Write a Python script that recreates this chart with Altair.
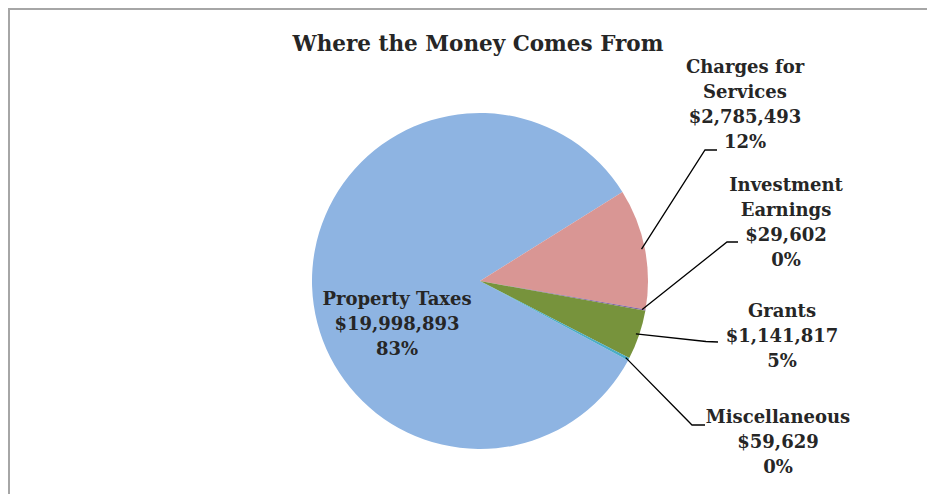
import math
import altair as alt
import pandas as pd

# ---------------- data ----------------
categories = ["Property Taxes", "Charges for Services", "Investment Earnings", "Grants", "Miscellaneous"]
label_names = ["Property Taxes", "Charges for\nServices", "Investment\nEarnings", "Grants", "Miscellaneous"]
values = [19998893, 2785493, 29602, 1141817, 59629]
colors = ["#8EB4E2", "#D99694", "#8064A2", "#77933C", "#4BACC6"]
TITLE = "Where the Money Comes From"

# ---------------- layout ----------------
W, H = 919, 486            # view size (px)
CX, CY, R = 472, 273, 168  # pie centre and radius in view px
FIRST_SLICE_DEG = 118.2    # angle of first slice (clockwise from 12 o'clock)
TEXT_COLOR = "#262626"
FONT = "DejaVu Serif"

# label first-line centres (view px)
label_pos = {
    "Property Taxes": (389, 292),
    "Charges for Services": (737, 59.5),
    "Investment Earnings": (778, 177.5),
    "Grants": (774, 304),
    "Miscellaneous": (770, 409.5),
}
# leader line elbow and end points (view px)
leader_pts = {
    "Charges for Services": [(697, 142), (709, 142)],
    "Investment Earnings": [(719, 234), (730, 234)],
    "Grants": [(698, 333.5), (710, 334)],
    "Miscellaneous": [(684, 417), (697, 417)],
}
title_pos = (470, 37)


def to_unit(p):
    return ((p[0] - CX) / R, (CY - p[1]) / R)


total = sum(values)
S = math.radians(FIRST_SLICE_DEG)

# slices
cum = 0
rows = []
for c, v in zip(categories, values):
    rows.append({"category": c, "t0": cum, "t1": cum + v, "value": v})
    cum += v
df_pie = pd.DataFrame(rows)

# labels
lab_rows = []
for c, n, v in zip(categories, label_names, values):
    pct = round(100 * v / total)
    text = f"{n}\n${v:,}\n{pct}%"
    ux, uy = to_unit(label_pos[c])
    lab_rows.append({"category": c, "label": text, "ux": ux, "uy": uy})
df_lab = pd.DataFrame(lab_rows)

# leader lines: start at the slice's mid angle on the edge
lead_rows = []
cum = 0
for c, v in zip(categories, values):
    mid = S + 2 * math.pi * (cum + v / 2) / total
    cum += v
    if c not in leader_pts:
        continue
    pts = [(0.98 * math.sin(mid), 0.98 * math.cos(mid))] + [to_unit(p) for p in leader_pts[c]]
    for i, (ux, uy) in enumerate(pts):
        lead_rows.append({"category": c, "order": i, "ux": ux, "uy": uy})
df_lead = pd.DataFrame(lead_rows)

tu = to_unit(title_pos)
df_title = pd.DataFrame([{"t": TITLE, "ux": tu[0], "uy": tu[1]}])

xs = alt.Scale(domain=[(0 - CX) / R, (W - CX) / R], nice=False, zero=False)
ys = alt.Scale(domain=[(CY - H) / R, CY / R], nice=False, zero=False)

pie = alt.Chart(df_pie).mark_arc(radius=R).encode(
    x=alt.X(datum=0, type="quantitative", scale=xs, axis=None, stack=False),
    y=alt.Y(datum=0, type="quantitative", scale=ys, axis=None, stack=False),
    theta=alt.Theta("t0:Q", scale=alt.Scale(domain=[0, total], range=[S, S + 2 * math.pi]), stack=False),
    theta2="t1:Q",
    color=alt.Color("category:N", scale=alt.Scale(domain=categories, range=colors), legend=None),
    order=alt.Order("t0:Q"),
)

leaders = alt.Chart(df_lead).mark_line(color="#000000", strokeWidth=1.3).encode(
    x=alt.X("ux:Q", scale=xs, axis=None),
    y=alt.Y("uy:Q", scale=ys, axis=None),
    detail="category:N",
    order="order:Q",
)

labels = alt.Chart(df_lab).mark_text(
    font=FONT, fontWeight="bold", fontSize=18, lineBreak="\n", lineHeight=25,
    align="center", baseline="middle", color=TEXT_COLOR,
).encode(
    x=alt.X("ux:Q", scale=xs, axis=None),
    y=alt.Y("uy:Q", scale=ys, axis=None),
    text="label:N",
)

title = alt.Chart(df_title).mark_text(
    font=FONT, fontWeight="bold", fontSize=21.5, align="center", baseline="middle", color=TEXT_COLOR,
).encode(
    x=alt.X("ux:Q", scale=xs, axis=None),
    y=alt.Y("uy:Q", scale=ys, axis=None),
    text="t:N",
)

border_top = alt.Chart(df_title).mark_rule(color="#A6A6A6", strokeWidth=2).encode(
    x=alt.value(0), x2=alt.value(W), y=alt.value(1)
)
border_left = alt.Chart(df_title).mark_rule(color="#A6A6A6", strokeWidth=2).encode(
    x=alt.value(1), y=alt.value(0), y2=alt.value(H)
)

chart = alt.layer(border_top, border_left, pie, leaders, labels, title).properties(
    width=W, height=H, padding=0, autosize="none", background="#FFFFFF"
).configure_view(strokeWidth=0)

chart.save("out.html", embed_options={"renderer": "svg", "actions": False})
